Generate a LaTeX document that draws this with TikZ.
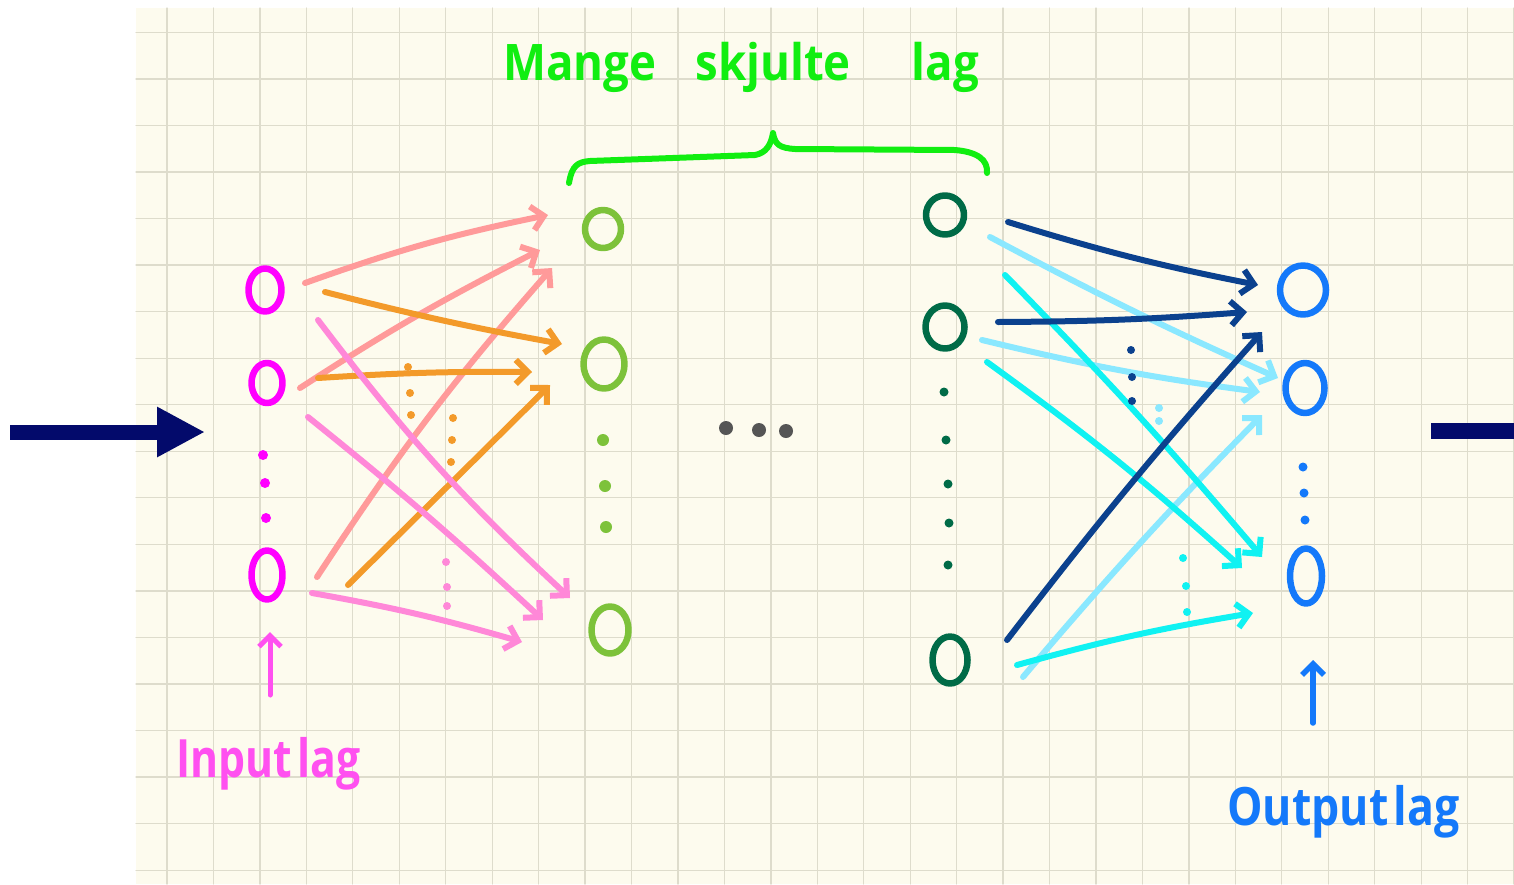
\documentclass[tikz,border=0pt]{standalone}
\usepackage{fontspec}
\setmainfont{Open Sans}
\usetikzlibrary{arrows.meta,shapes.geometric}
\definecolor{paper}{HTML}{FDFBEE}
\definecolor{gridc}{HTML}{DEDCCC}
\definecolor{inmag}{HTML}{FF00FF}
\definecolor{inlab}{HTML}{FF50F0}
\definecolor{hidA}{HTML}{7DC23A}
\definecolor{hidB}{HTML}{006B47}
\definecolor{outblue}{HTML}{1479FA}
\definecolor{brgreen}{HTML}{11EE11}
\definecolor{salmon}{HTML}{FF9A9A}
\definecolor{orangeA}{HTML}{F39A2A}
\definecolor{pinkA}{HTML}{FF88D8}
\definecolor{navyA}{HTML}{0B418E}
\definecolor{lcyan}{HTML}{8AE8FF}
\definecolor{cyanA}{HTML}{10F2F2}
\definecolor{grayd}{HTML}{555555}
\definecolor{bignavy}{HTML}{030A6B}
\begin{document}
\begin{tikzpicture}[x=1pt,y=-1pt,line cap=round,line join=round,
  neuron/.style={ellipse,draw,line width=6.5pt,inner sep=0pt},
  dotn/.style={circle,fill,inner sep=0pt,minimum size=9pt},
  conn/.style={line width=6pt,-{Straight Barb[length=12pt,width=24pt]}},
  hand/.style={inner sep=0pt,anchor=base west,font=\bfseries\fontsize{48pt}{50pt}\selectfont}]
\useasboundingbox (0,0) rectangle (1514,884);
\fill[paper] (136,8) rectangle (1514,884);
\foreach \k in {0,...,29} \draw[gridc,line width=1.3pt] ({167+46.45*\k},8) -- ({167+46.45*\k},884);
\foreach \k in {0,...,18} \draw[gridc,line width=1.3pt] (136,{32.3+46.55*\k}) -- (1514,{32.3+46.55*\k});

% big arrows
\coordinate (ls) at (10,432);
\coordinate (le) at (205,432);
\draw[bignavy,line width=15pt,line cap=butt,-{Triangle[length=48pt,width=47pt]}] (ls) -- (le);
\coordinate (rs) at (1431,431);
\coordinate (re) at (1514,431);
\draw[bignavy,line width=15.5pt,line cap=butt] (rs) -- (re);

% input layer
\node[neuron,inmag,minimum width=33pt,minimum height=43pt] (i1) at (265,290) {};
\node[neuron,inmag,minimum width=31pt,minimum height=40pt] (i2) at (267,383) {};
\node[neuron,inmag,minimum width=31pt,minimum height=49pt] (i3) at (267,575) {};
\foreach \p in {(263,455),(265,483),(266,518)} \node[dotn,inmag,minimum size=10pt] at \p {};

% hidden layer A
\node[neuron,hidA,minimum width=36pt,minimum height=38pt] (h1) at (603,229) {};
\node[neuron,hidA,minimum width=41pt,minimum height=49pt] (h2) at (604,364) {};
\node[neuron,hidA,minimum width=37pt,minimum height=47pt] (h3) at (610,630) {};
\foreach \p in {(603,440),(605,486),(606,527)} \node[dotn,hidA,minimum size=12pt] at \p {};

% hidden layer B
\node[neuron,hidB,minimum width=38pt,minimum height=39pt] (g1) at (945,215) {};
\node[neuron,hidB,minimum width=39pt,minimum height=43pt] (g2) at (945,327) {};
\node[neuron,hidB,minimum width=35pt,minimum height=47pt] (g3) at (950,660) {};
\foreach \p in {(944,392),(946,440),(948,484),(949,523),(948,565)} \node[dotn,hidB,minimum size=9pt] at \p {};

% output layer
\node[neuron,outblue,minimum width=46pt,minimum height=49pt] (o1) at (1303,290) {};
\node[neuron,outblue,minimum width=39pt,minimum height=50pt] (o2) at (1305,388) {};
\node[neuron,outblue,minimum width=32pt,minimum height=55pt] (o3) at (1306,576) {};
\foreach \p in {(1303,467),(1304,493),(1305,520)} \node[dotn,outblue,minimum size=9pt] at \p {};

% middle ellipsis
\foreach \p in {(726,428),(759,430),(786,431)} \node[dotn,grayd,minimum size=14pt] at \p {};

% left connectors
\coordinate (a1s) at (305,283); \coordinate (a1e) at (548,215);
\coordinate (a2s) at (300,388); \coordinate (a2e) at (540,250);
\coordinate (a3s) at (317,577); \coordinate (a3e) at (552,268);
\coordinate (b1s) at (325,292); \coordinate (b1e) at (562,344);
\coordinate (b2s) at (318,378); \coordinate (b2e) at (532,372);
\coordinate (b3s) at (348,585); \coordinate (b3e) at (550,385);
\coordinate (c1s) at (318,320); \coordinate (c1e) at (570,598);
\coordinate (c2s) at (308,417); \coordinate (c2e) at (543,620);
\coordinate (c3s) at (312,593); \coordinate (c3e) at (522,642);
\draw[conn,salmon] (a1s) to[bend left=4] (a1e);
\draw[conn,salmon] (a2s) to[bend left=3] (a2e);
\draw[conn,salmon] (a3s) to[bend left=4] (a3e);
\draw[conn,orangeA] (b1s) to[bend right=2] (b1e);
\draw[conn,orangeA] (b2s) to[bend left=2] (b2e);
\draw[conn,orangeA] (b3s) -- (b3e);
\draw[conn,pinkA] (c1s) to[bend right=5] (c1e);
\draw[conn,pinkA] (c2s) to[bend left=2] (c2e);
\draw[conn,pinkA] (c3s) to[bend left=3] (c3e);
\foreach \p in {(408,367),(410,393),(411,415),(453,418),(452,440),(451,462)} \node[dotn,orangeA,minimum size=8pt] at \p {};
\foreach \p in {(446,562),(447,587),(447,606)} \node[dotn,pinkA,minimum size=8pt] at \p {};

% right connectors
\coordinate (d1s) at (1008,222); \coordinate (d1e) at (1258,285);
\coordinate (d2s) at (998,322);  \coordinate (d2e) at (1247,312);
\coordinate (d3s) at (1007,640); \coordinate (d3e) at (1262,332);
\coordinate (e1s) at (990,237);  \coordinate (e1e) at (1278,378);
\coordinate (e2s) at (982,340);  \coordinate (e2e) at (1260,392);
\coordinate (e3s) at (1023,677); \coordinate (e3e) at (1262,415);
\coordinate (f1s) at (1005,275); \coordinate (f1e) at (1262,557);
\coordinate (f2s) at (987,362);  \coordinate (f2e) at (1242,568);
\coordinate (f3s) at (1017,665); \coordinate (f3e) at (1253,613);
\draw[conn,lcyan] (e1s) to[bend right=2] (e1e);
\draw[conn,lcyan] (e2s) to[bend right=3] (e2e);
\draw[conn,lcyan] (e3s) to[bend left=2] (e3e);
\draw[conn,cyanA] (f1s) to[bend left=2] (f1e);
\draw[conn,cyanA] (f2s) to[bend left=3] (f2e);
\draw[conn,cyanA] (f3s) to[bend left=3] (f3e);
\draw[conn,navyA] (d1s) to[bend right=3] (d1e);
\draw[conn,navyA] (d2s) to[bend right=2] (d2e);
\draw[conn,navyA] (d3s) to[bend left=2] (d3e);
\foreach \p in {(1131,350),(1132,377),(1132,401)} \node[dotn,navyA,minimum size=8pt] at \p {};
\foreach \p in {(1159,408),(1159,421)} \node[dotn,lcyan,minimum size=8pt] at \p {};
\foreach \p in {(1183,558),(1186,586),(1187,612)} \node[dotn,cyanA,minimum size=8pt] at \p {};

% brace and title
\coordinate (bl) at (569,183);
\coordinate (br) at (987,173);
\coordinate (bp) at (773,133);
\draw[brgreen,line width=6pt] (bl) .. controls (572,165) and (578,162) .. (590,161)
  -- (755,155) .. controls (766,153) and (771,145) .. (bp)
  .. controls (775,145) and (780,148) .. (795,149) -- (955,150)
  .. controls (978,152) and (988,160) .. (br);
\node[hand,brgreen] (title) at (503,80) {\scalebox{0.95}[1.05]{Mange\hspace{41pt}skjulte\hspace{64pt}lag}};

% labels
\coordinate (ia) at (270,695);
\coordinate (ib) at (270,632);
\draw[inlab,line width=5pt,-{Straight Barb[length=11pt,width=22pt]}] (ia) -- (ib);
\node[hand,inlab] (inl) at (176,777) {\scalebox{0.89}[1.1]{Input\hspace{6pt}lag}};
\coordinate (oa) at (1313,723);
\coordinate (ob) at (1313,660);
\draw[outblue,line width=5.5pt,-{Straight Barb[length=11pt,width=22pt]}] (oa) -- (ob);
\node[hand,outblue] (outl) at (1227,825) {\scalebox{0.93}[1.1]{Output\hspace{6pt}lag}};
\end{tikzpicture}
\end{document}
